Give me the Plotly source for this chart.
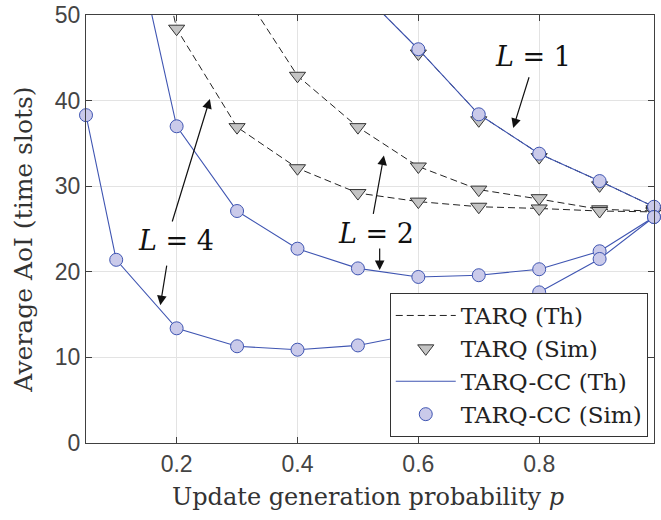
import plotly.graph_objects as go

# ---- data ----
p = [0.05, 0.1, 0.2, 0.3, 0.4, 0.5, 0.6, 0.7, 0.8, 0.9, 0.99]

# TARQ theory / simulation (L = 1, 2, 4)
tarq_th_L1 = [None, None, None, None, None, 53.1, 46.0, 38.4, 33.8, 30.6, 27.6]
tarq_th_L2 = [None, None, None, 53.8, 42.9, 36.9, 32.3, 29.6, 28.5, 27.3, 27.1]
tarq_th_L4 = [None, 80.0, 48.4, 36.9, 32.1, 29.2, 28.2, 27.6, 27.4, 27.1, 27.0]
tarq_sim_L1 = [None, None, None, None, None, None, 45.5, 37.7, 33.4, 30.1, 27.3]
tarq_sim_L2 = [None, None, None, None, 42.9, 36.9, 32.3, 29.6, 28.6, 27.3, 27.1]
tarq_sim_L4 = [None, None, 48.4, 36.9, 32.1, 29.2, 28.2, 27.6, 27.4, 27.1, 27.0]

# TARQ-CC theory / simulation
cc_th_L1 = [None, None, None, None, None, 53.1, 46.0, 38.4, 33.8, 30.6, 27.6]
cc_th_L2 = [None, 68.7, 37.0, 27.1, 22.7, 20.4, 19.4, 19.6, 20.3, 22.4, 26.4]
cc_th_L4 = [38.3, 21.4, 13.4, 11.3, 10.9, 11.4, 12.8, 15.0, 17.6, 21.5, 26.4]
cc_sim_L1 = [None, None, None, None, None, None, 46.0, 38.4, 33.8, 30.6, 27.6]
cc_sim_L2 = [None, None, 37.0, 27.1, 22.7, 20.4, 19.4, 19.6, 20.3, 22.4, 26.4]
cc_sim_L4 = [38.3, 21.4, 13.4, 11.3, 10.9, 11.4, 12.8, 15.0, 17.6, 21.5, 26.4]

x_ticks = [0.2, 0.4, 0.6, 0.8]
y_ticks = [0, 10, 20, 30, 40, 50]

legend_names = ["TARQ (Th)", "TARQ (Sim)", "TARQ-CC (Th)", "TARQ-CC (Sim)"]
x_title = "Update generation probability <i>p</i>"
y_title = "Average AoI (time slots)"

# annotations: labels with text positions, and arrows (tail, tip)
labels = ["<i>L</i> = 1", "<i>L</i> = 2", "<i>L</i> = 4"]
label_pos = [(0.790, 45.1), (0.530, 24.5), (0.199, 23.7)]
arrows = [
    ((0.784, 42.9), (0.757, 36.8)),
    ((0.525, 26.6), (0.543, 33.6)),
    ((0.536, 22.9), (0.536, 20.2)),
    ((0.192, 25.7), (0.255, 40.2)),
    ((0.184, 20.9), (0.173, 16.1)),
]

# ---- styles ----
BLUE = "#3f55b2"
FILL_C = "#cacaea"
FILL_T = "#c4c4c4"
SERIF = "DejaVu Serif"
SANS = "Liberation Sans"

fig = go.Figure()

for i, ys in enumerate([tarq_th_L1, tarq_th_L2, tarq_th_L4]):
    fig.add_trace(go.Scatter(x=p, y=ys, mode="lines", name=legend_names[0],
                             legendgroup="a", showlegend=(i == 0),
                             line=dict(color="#222222", width=1, dash="7px,4px")))
for i, ys in enumerate([tarq_sim_L1, tarq_sim_L2, tarq_sim_L4]):
    fig.add_trace(go.Scatter(x=p, y=ys, mode="markers", name=legend_names[1],
                             legendgroup="b", showlegend=(i == 0), cliponaxis=False,
                             marker=dict(symbol="triangle-down", size=14, color=FILL_T,
                                         line=dict(color="#333333", width=1))))
for i, ys in enumerate([cc_th_L1, cc_th_L2, cc_th_L4]):
    fig.add_trace(go.Scatter(x=p, y=ys, mode="lines", name=legend_names[2],
                             legendgroup="c", showlegend=(i == 0),
                             line=dict(color=BLUE, width=1.1)))
for i, ys in enumerate([cc_sim_L1, cc_sim_L2, cc_sim_L4]):
    fig.add_trace(go.Scatter(x=p, y=ys, mode="markers", name=legend_names[3],
                             legendgroup="d", showlegend=(i == 0), cliponaxis=False,
                             marker=dict(symbol="circle", size=13, color=FILL_C,
                                         line=dict(color=BLUE, width=1))))

for txt, (tx, ty) in zip(labels, label_pos):
    fig.add_annotation(x=tx, y=ty, text=txt, showarrow=False,
                       font=dict(family=SERIF, size=27, color="#111111"))
for (tail, tip) in arrows:
    fig.add_annotation(x=tip[0], y=tip[1], ax=tail[0], ay=tail[1],
                       xref="x", yref="y", axref="x", ayref="y",
                       text="", showarrow=True, arrowhead=2, arrowsize=1.6,
                       arrowwidth=1.2, arrowcolor="#111111", standoff=0)

# axis titles
fig.add_annotation(x=0.496, y=-0.126, xref="paper", yref="paper", text=x_title,
                   showarrow=False, xanchor="center", yanchor="middle",
                   font=dict(family=SERIF, size=24, color="#333333"))
fig.add_annotation(x=-0.110, y=0.474, xref="paper", yref="paper", text=y_title,
                   showarrow=False, xanchor="center", yanchor="middle", textangle=-90,
                   font=dict(family=SERIF, size=25, color="#333333"))

axis_common = dict(showline=True, linecolor="#404040", linewidth=1, mirror="ticks",
                   ticks="inside", ticklen=6, tickcolor="#404040", automargin=False,
                   showgrid=True, gridcolor="#e3e3e3", gridwidth=1, zeroline=False,
                   tickfont=dict(family=SANS, size=23, color="#444444"))

fig.update_layout(
    width=661, height=520,
    margin=dict(l=86, r=7, t=15, b=77),
    paper_bgcolor="white", plot_bgcolor="white",
    xaxis=dict(range=[0.05, 0.99], tickvals=x_ticks, ticktext=[f"{v:.1f}" for v in x_ticks],
               **axis_common),
    yaxis=dict(range=[0, 50], tickvals=y_ticks, **axis_common),
    legend=dict(x=0.989, y=0.014, xanchor="right", yanchor="bottom",
                bgcolor="white", bordercolor="#333333", borderwidth=1,
                font=dict(family=SERIF, size=23, color="#222222"),
                itemwidth=60, tracegroupgap=0),
    showlegend=True,
)

fig.write_html("out.html", config={"displayModeBar": False},
               post_script="document.body.style.margin='0';")
